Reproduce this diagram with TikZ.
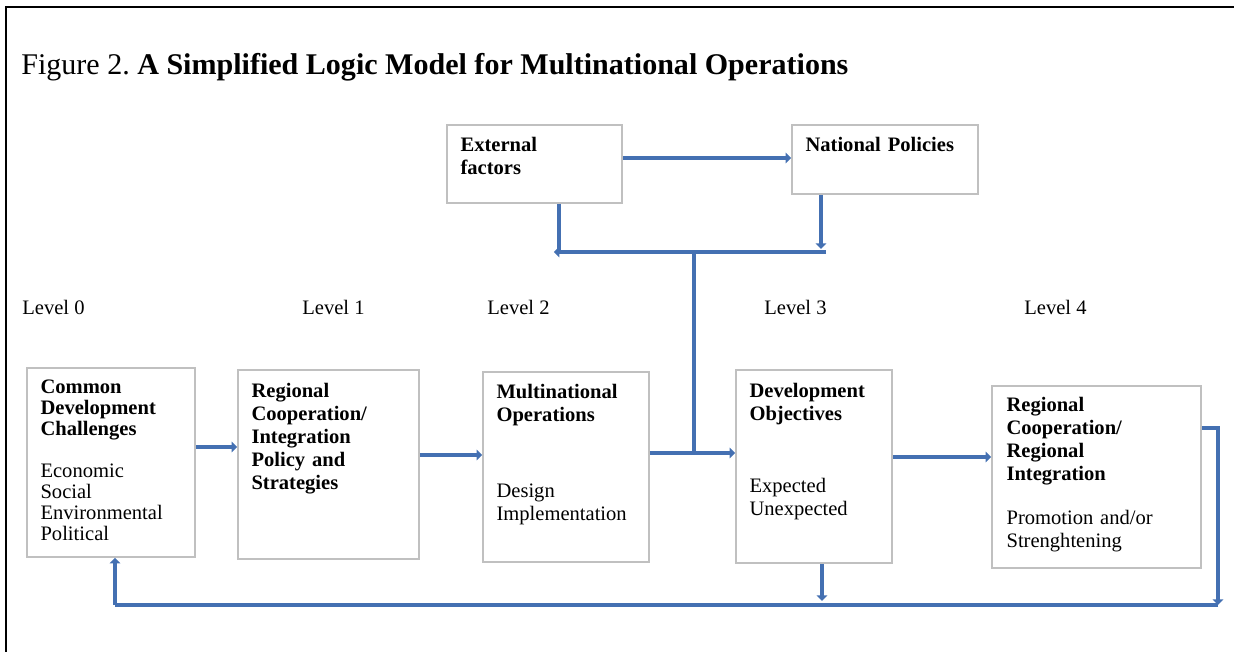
\documentclass[tikz,border=0pt]{standalone}
\usepackage{fontspec}
\setmainfont{Liberation Serif}
\usetikzlibrary{arrows.meta}
\usetikzlibrary{calc}
\usetikzlibrary{fit}
\definecolor{myblue}{RGB}{68,112,178}
\definecolor{mygray}{RGB}{192,192,192}
\tikzset{
  box/.style={draw=mygray,line width=0.9pt,inner sep=0pt},
  txt/.style={anchor=north west,inner sep=0pt,align=left,text width=3.6cm,
    font=\fontsize{11.7}{13}\selectfont},
  lvl/.style={anchor=west,inner sep=0pt,font=\fontsize{11.7}{13}\selectfont},
  flow/.style={myblue,line width=2.3pt},
  >={Triangle[length=3.2pt,width=6pt]}
}

\begin{document}
\begin{tikzpicture}[x=0.02cm,y=-0.02cm]
  \useasboundingbox (0,0) rectangle (1234,652);

  % FRAME AND TITLE
  \draw[line width=1.7pt] (6,652) -- (6,7) -- (1234,7);
  \node[anchor=base west,inner sep=0pt,font=\fontsize{17.1}{21}\selectfont] (title) at (21,75)
    {Figure 2.\ \textbf{A Simplified Logic Model for Multinational Operations}};

  % LEVELS
  \node[lvl] (lev0) at (22,307) {Level 0};
  \node[lvl] (lev1) at (302,307) {Level 1};
  \node[lvl] (lev2) at (487,307) {Level 2};
  \node[lvl] (lev3) at (764,307) {Level 3};
  \node[lvl] (lev4) at (1024,307) {Level 4};

  % BOXES
  \node[box,fit={(447,125) (622,203)}] (ext) {};
  \node[box,fit={(792,125) (978,194)}] (nat) {};
  \node[box,fit={(27,368) (195,557)}] (chal) {};
  \node[box,fit={(238,370) (419,559)}] (coop) {};
  \node[box,fit={(483,372) (649,562)}] (oper) {};
  \node[box,fit={(736,370) (892,563)}] (obj) {};
  \node[box,fit={(992,386) (1201,568)}] (integ) {};

  % BOX TEXTS
  \node[txt] (ext-t) at ($(ext.north west)+(14,13)$) {\bfseries External\\factors};
  \node[txt] (nat-t) at ($(nat.north west)+(14,13)$) {\bfseries National Policies};
  \node[txt,font=\fontsize{11.7}{12}\selectfont] (chal-t) at ($(chal.north west)+(14,12)$)
    {\bfseries Common\\Development\\Challenges\\[12pt]\mdseries
     Economic\\Social\\Environmental\\Political};
  \node[txt] (coop-t) at ($(coop.north west)+(14,14)$)
    {\bfseries Regional\\Cooperation/\\Integration\\Policy and\\Strategies};
  \node[txt] (oper-t) at ($(oper.north west)+(14,13)$)
    {\bfseries Multinational\\Operations\\[30pt]\mdseries Design\\Implementation};
  \node[txt] (obj-t) at ($(obj.north west)+(14,14)$)
    {\bfseries Development\\Objectives\\[28pt]\mdseries Expected\\Unexpected};
  \node[txt] (integ-t) at ($(integ.north west)+(15,12)$)
    {\bfseries Regional\\Cooperation/\\Regional\\Integration\\[12pt]\mdseries
     Promotion and/or\\Strenghtening};

  % ARROWS
  \coordinate (barL) at (559,252);
  \coordinate (barR) at (826,252);
  \coordinate (stem) at (694,252);
  \coordinate (join) at (694,453);
  \draw[flow,->] (ext.east |- 0,158) -- (nat.west |- 0,158);
  \draw[flow] (ext.south -| barL) -- (barL);
  \draw[flow,->] (barR) -- ([xshift=-3pt]barL);
  \draw[flow,->] (nat.south -| 821,0) -- (821,249);
  \draw[flow] (stem) -- (join);
  \draw[flow,->] (chal.east |- 0,447) -- (coop.west |- 0,447);
  \draw[flow,->] (coop.east |- 0,455) -- (oper.west |- 0,455);
  \draw[flow,->] (oper.east |- join) -- (obj.west |- join);
  \draw[flow,->] (obj.east |- 0,457) -- (integ.west |- 0,457);

  % FEEDBACK LOOP
  \coordinate (loopR) at (1218,605);
  \coordinate (loopL) at (115,605);
  \draw[flow,->] (integ.east |- 0,428) -| (loopR);
  \draw[flow] (loopR) -- (loopL);
  \draw[flow,->] (loopL) -- (chal.south -| loopL);
  \draw[flow,->] (obj.south -| 822,0) -- (822,601);
\end{tikzpicture}
\end{document}
